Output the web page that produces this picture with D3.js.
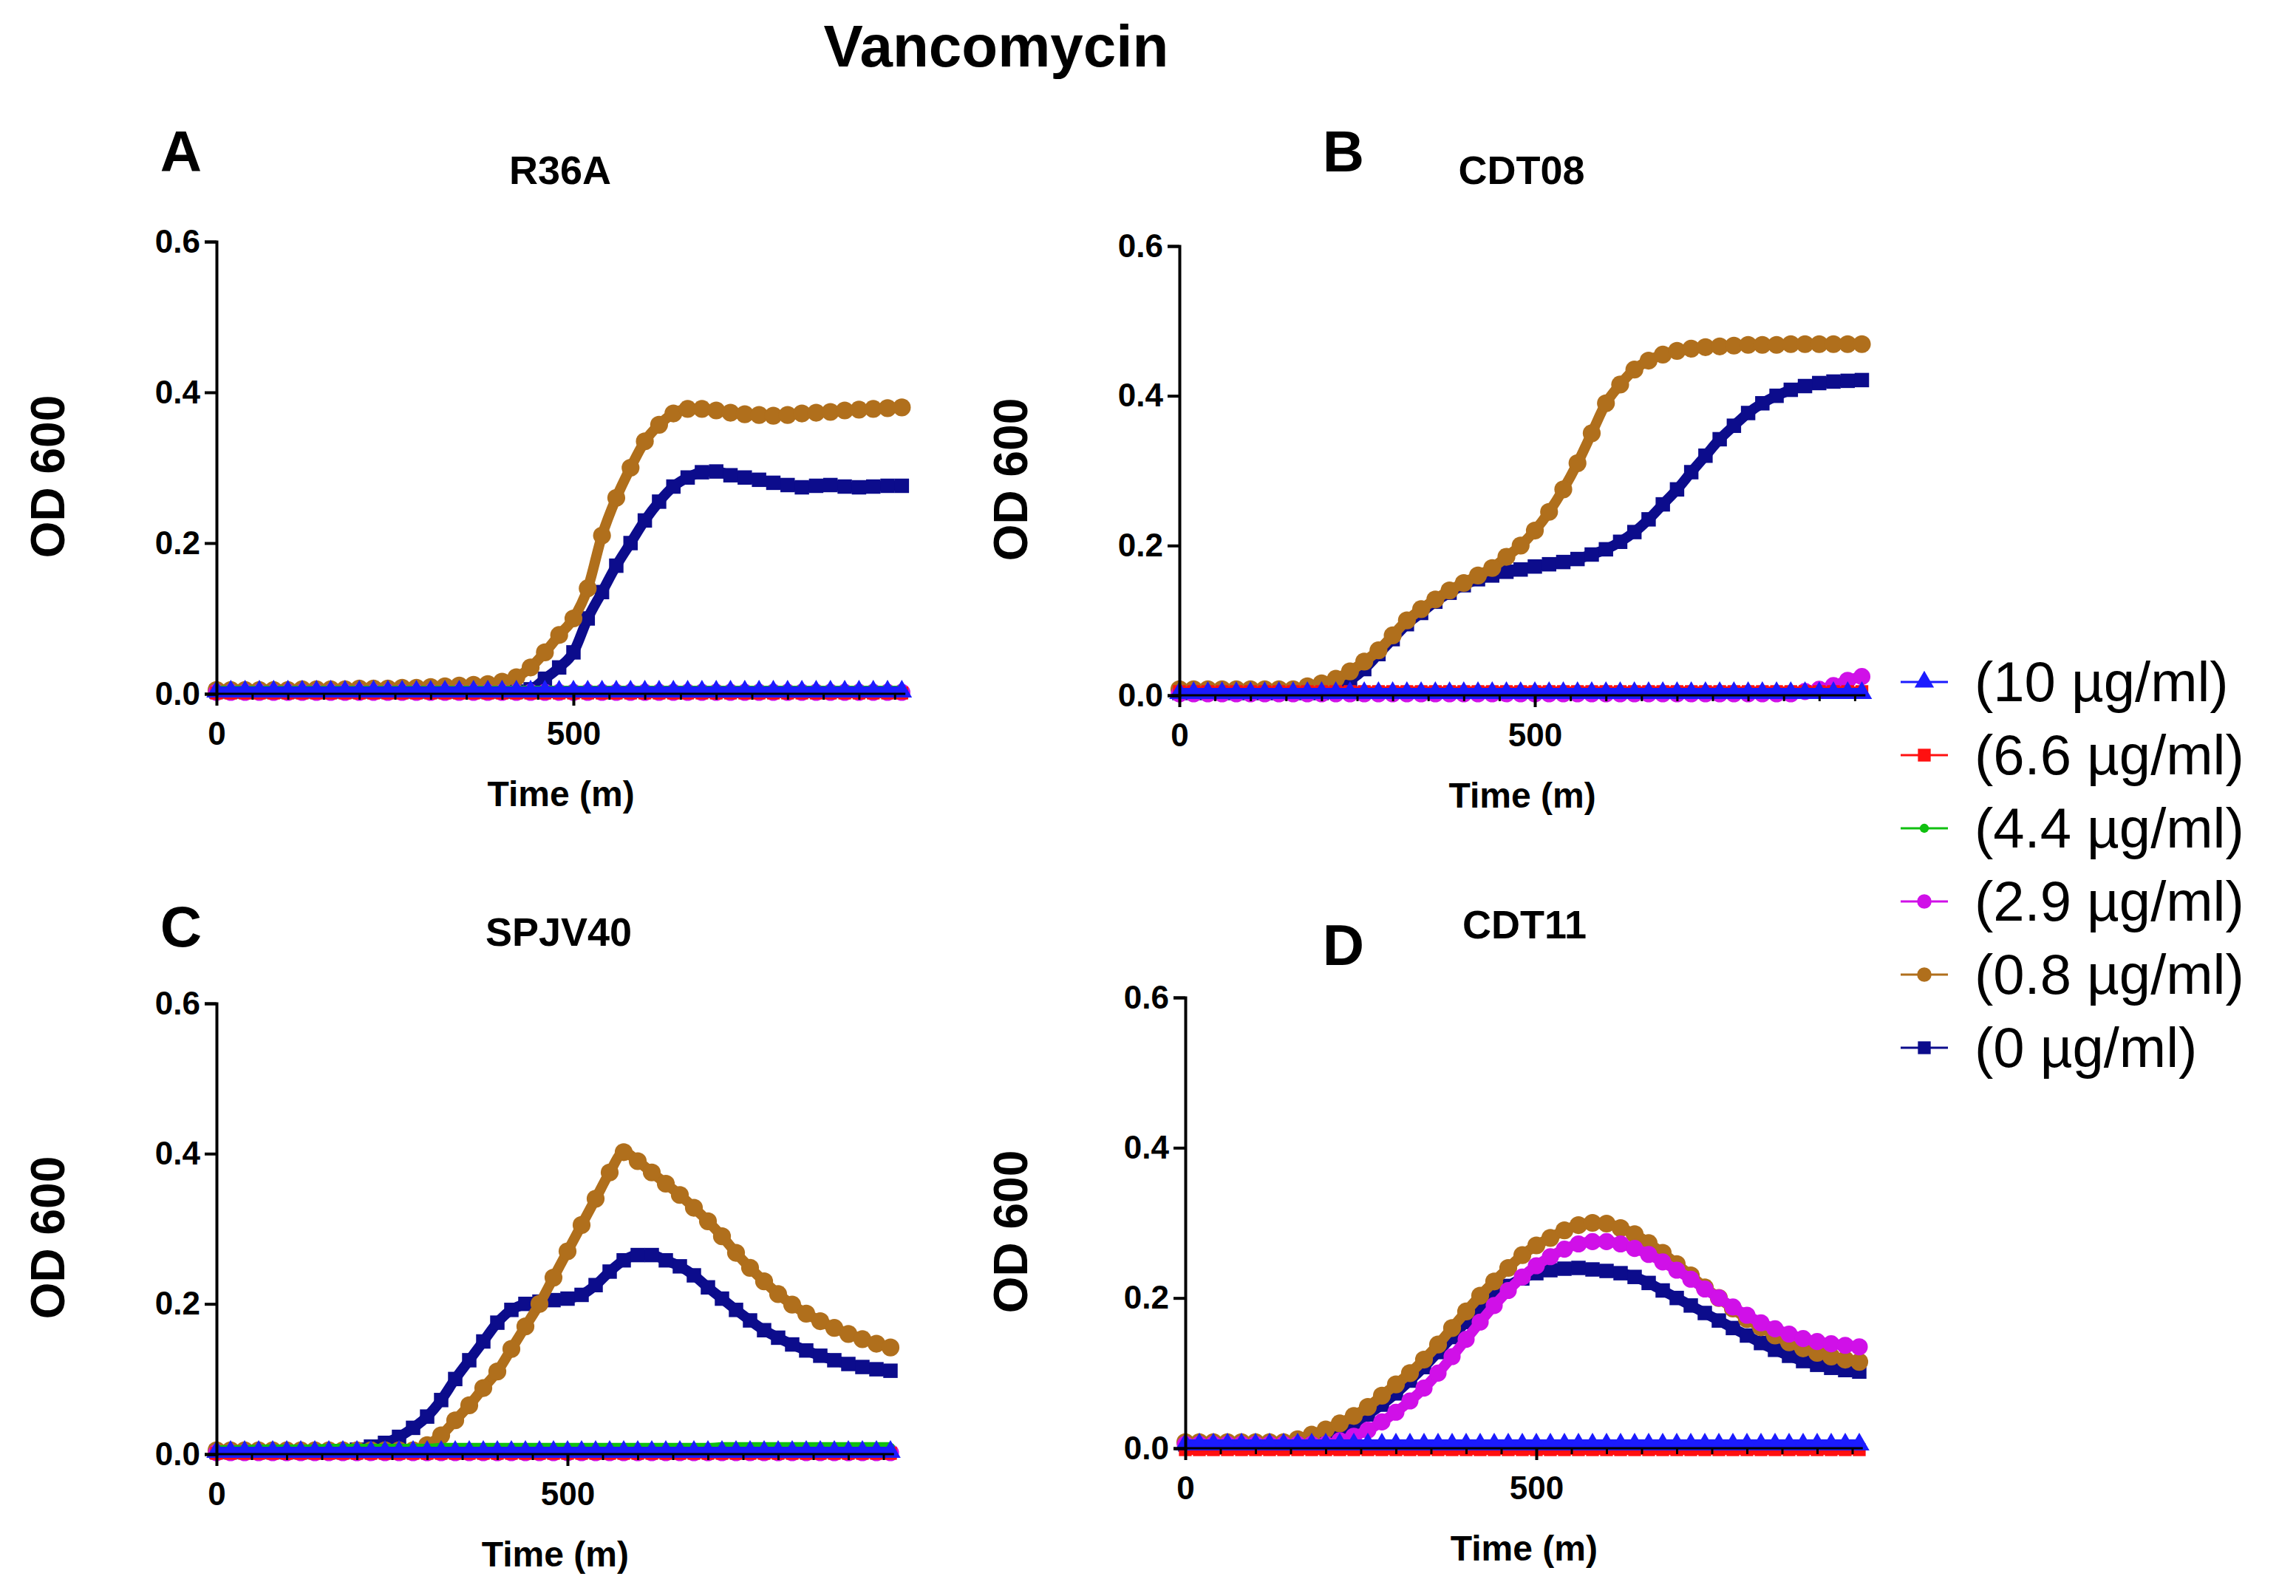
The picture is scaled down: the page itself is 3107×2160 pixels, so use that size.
<!DOCTYPE html>
<html>
<head>
<meta charset="utf-8">
<script src="https://cdn.jsdelivr.net/npm/d3@7"></script>
<style>
  body { margin: 0; background: #fff; }
  svg { font-family: "Liberation Sans", Arial, sans-serif; }
</style>
</head>
<body>
<svg id="chart" width="3107" height="2160"></svg>
<script>
// sampling every 20 minutes, 0..960
const times = d3.range(0, 961, 20);

const legendLabels = ['(10 µg/ml)', '(6.6 µg/ml)', '(4.4 µg/ml)', '(2.9 µg/ml)', '(0.8 µg/ml)', '(0 µg/ml)'];
const panelLetters = ['A', 'B', 'C', 'D'];
const panelNames = ['R36A', 'CDT08', 'SPJV40', 'CDT11'];
const yTicks = [0, 0.2, 0.4, 0.6];
const xTicks = [0, 500];

// R36A
const a10 = [.003,.003,.003,.003,.003,.003,.003,.003,.003,.003,.003,.003,.003,.003,.003,.003,.003,.003,.003,.003,.003,.003,.003,.003,.003,.003,.003,.003,.003,.003,.003,.003,.003,.003,.003,.003,.003,.003,.003,.003,.003,.003,.003,.003,.003,.003,.003,.003,.003];
const a66 = [.001,.001,.001,.001,.001,.001,.001,.001,.001,.001,.001,.001,.001,.001,.001,.001,.001,.001,.001,.001,.001,.001,.001,.001,.001,.001,.001,.001,.001,.001,.001,.001,.001,.001,.001,.001,.001,.001,.001,.001,.001,.001,.001,.001,.001,.001,.001,.001,.001];
const a44 = [.004,.004,.004,.004,.004,.004,.004,.004,.004,.004,.004,.004,.004,.004,.004,.004,.004,.004,.004,.004,.004,.004,.004,.004,.004,.004,.004,.004,.004,.004,.004,.004,.004,.004,.004,.004,.004,.004,.004,.004,.004,.004,.004,.004,.004,.004,.004,.004,.004];
const a29 = [.002,.002,.002,.002,.002,.002,.002,.002,.002,.002,.002,.002,.002,.002,.002,.002,.002,.002,.002,.002,.002,.002,.002,.002,.002,.002,.002,.002,.002,.002,.002,.002,.002,.002,.002,.002,.002,.002,.002,.002,.002,.002,.002,.002,.002,.002,.002,.002,.002];
const a08 = [.005,.005,.005,.005,.005,.005,.006,.006,.006,.006,.007,.007,.007,.008,.008,.009,.01,.011,.012,
  .013,.016,.022,.035,.055,.078,.1,.14,.21,.26,.3,.335,.357,.372,.378,.378,.376,.373,.371,.37,.369,.37,.372,.373,.374,.376,.377,.378,.379,.38];
const a0 = [.003,.003,.003,.003,.003,.003,.003,.003,.003,.003,.003,.003,.003,.003,.003,.003,.003,.003,.003,.003,.003,.003,
  .006,.02,.035,.055,.1,.135,.17,.2,.23,.255,.275,.287,.294,.295,.29,.287,.284,.28,.277,.274,.276,.277,.275,.274,.275,.276,.276];

// CDT08
const b10 = a10;
const b66 = [.005,.005,.005,.005,.005,.005,.005,.005,.005,.005,.005,.005,.005,.005,.005,.005,.005,.005,.005,.005,.005,.005,.005,.005,.005,.005,.005,.005,.005,.005,.005,.005,.005,.005,.005,.005,.005,.005,.005,.005,.005,.005,.005,.005,.005,.005,.005,.005,.005];
const b44 = a44;
const b29 = [.002,.002,.002,.002,.002,.002,.002,.002,.002,.002,.002,.002,.002,.002,.002,.002,.002,.002,.002,.002,.002,.002,.002,.002,.002,.002,.002,.002,.002,.002,.002,.002,.002,.002,.002,.002,.002,.002,.002,.002,.002,.002,.002,.002,.005,.008,.013,.02,.025];
const b08 = [.008,.008,.008,.008,.008,.008,.008,.008,.008,
  .012,.016,.022,.032,.045,.06,.08,.1,.115,.128,.14,.15,.16,.17,.185,.2,.22,.245,.275,.31,.35,.39,.415,.435,.447,.455,.46,.463,.465,.466,.467,.468,.468,.468,.469,.469,.469,.469,.469,.469];
const b0 = [.003,.003,.003,.003,.003,.003,.003,.003,.003,.003,.003,
  .01,.02,.035,.055,.075,.095,.11,.125,.137,.147,.155,.16,.165,.168,.172,.175,.178,.182,.188,.195,.205,.218,.235,.255,.275,.298,.32,.342,.36,.377,.39,.4,.408,.413,.417,.419,.42,.421];

// SPJV40
const c10 = a10;
const c66 = a66;
const c44 = [.005,.005,.005,.006,.006,.006,.006,.006,.007,.007,.007,.007,.007,.007,.007,.007,.008,.008,.008,.008,.008,.008,.008,.008,.008,.008,.008,.008,.008,.008,.008,.008,.008,.008,.008,.008,.009,.009,.009,.009,.009,.009,.009,.009,.009,.009,.009,.009,.009];
const c29 = a29;
const c08 = [.005,.005,.005,.005,.005,.005,.005,.005,.005,.005,.005,.005,.005,.005,.005,
  .012,.025,.045,.065,.088,.11,.14,.17,.2,.235,.27,.305,.34,.375,.402,.39,.375,.36,.345,.328,.31,.29,.268,.248,.23,.213,.199,.187,.177,.168,.16,.153,.147,.142];
const c0 = [.003,.003,.003,.003,.003,.003,.003,.003,.003,.003,
  .006,.01,.015,.023,.035,.05,.072,.1,.125,.15,.175,.192,.2,.203,.205,.207,.212,.225,.243,.258,.265,.265,.258,.25,.238,.222,.207,.192,.178,.165,.155,.146,.138,.131,.125,.12,.116,.113,.111];

// CDT11
const d10 = [.005,.005,.005,.005,.005,.005,.005,.005,.005,.005,.005,.005,.005,.005,.005,.005,.005,.005,.005,.005,.005,.005,.005,.005,.005,.005,.005,.005,.005,.005,.005,.005,.005,.005,.005,.005,.005,.005,.005,.005,.005,.005,.005,.005,.005,.005,.005,.005,.005];
const d66 = [-.002,-.002,-.002,-.002,-.002,-.002,-.002,-.002,-.002,-.002,-.002,-.002,-.002,-.002,-.002,-.002,-.002,-.002,-.002,-.002,-.002,-.002,-.002,-.002,-.002,-.002,-.002,-.002,-.002,-.002,-.002,-.002,-.002,-.002,-.002,-.002,-.002,-.002,-.002,-.002,-.002,-.002,-.002,-.002,-.002,-.002,-.002,-.002,-.002];
const d44 = a29;
const d29 = [.005,.005,.005,.005,.005,.005,.005,.005,.005,.005,.005,
  .01,.016,.024,.035,.048,.063,.08,.1,.122,.145,.168,.19,.21,.228,.243,.255,.265,.272,.275,.275,.272,.266,.258,.248,.237,.225,.212,.2,.188,.177,.167,.159,.152,.146,.142,.139,.137,.135];
const d08 = [.008,.008,.008,.008,.008,.008,.008,.008,
  .012,.018,.025,.033,.043,.055,.07,.085,.1,.118,.138,.16,.182,.203,.222,.24,.257,.27,.28,.29,.297,.3,.299,.293,.285,.273,.26,.245,.23,.214,.2,.186,.172,.161,.15,.141,.133,.127,.122,.118,.115];
const d0 = [.005,.005,.005,.005,.005,.005,.005,.005,.005,
  .01,.016,.024,.033,.045,.058,.073,.09,.108,.128,.148,.168,.187,.203,.216,.226,.233,.237,.239,.24,.238,.236,.233,.228,.22,.21,.2,.19,.18,.17,.16,.15,.14,.131,.123,.116,.111,.107,.104,.102];

const panelData = [
  [a10, a66, a44, a29, a08, a0],
  [b10, b66, b44, b29, b08, b0],
  [c10, c66, c44, c29, c08, c0],
  [d10, d66, d44, d29, d08, d0],
];

const colors = ['#1b1bff', '#ff1010', '#10c010', '#d010e8', '#b06f1c', '#0c0c8c'];
const shapes = [d3.symbolTriangle, d3.symbolSquare, d3.symbolCircle, d3.symbolCircle, d3.symbolCircle, d3.symbolSquare];
const sizes = [330, 300, 120, 420, 460, 380];

// layout of each panel: axis x, top, bottom, x pixel for 500
const layout = [
  { x0: 293, top: 327, bot: 939, x500: 776, lx: 245, ly: 204, tx: 758, ty: 230, ylx: 63 },
  { x0: 1596, top: 333, bot: 941, x500: 2077, lx: 1818, ly: 204, tx: 2059, ty: 230, ylx: 1366 },
  { x0: 293, top: 1358, bot: 1968, x500: 768, lx: 245, ly: 1253, tx: 756, ty: 1261, ylx: 63 },
  { x0: 1604, top: 1350, bot: 1960, x500: 2079, lx: 1818, ly: 1278, tx: 2063, ty: 1251, ylx: 1366 },
];

const svg = d3.select('#chart');
const narrow = '"Liberation Sans Narrow", "Arial Narrow", "Liberation Sans", sans-serif';

svg.append('text')
  .attr('x', 1348).attr('y', 90)
  .attr('text-anchor', 'middle')
  .attr('font-size', 80).attr('font-weight', 'bold')
  .text('Vancomycin');

layout.forEach((p, i) => {
  const x = d3.scaleLinear().domain([0, 500]).range([p.x0, p.x500]);
  const y = d3.scaleLinear().domain([0, 0.6]).range([p.bot, p.top]);
  const g = svg.append('g');

  g.append('text').attr('x', p.lx).attr('y', p.ly + 28)
    .attr('text-anchor', 'middle').attr('font-size', 78).attr('font-weight', 'bold')
    .text(panelLetters[i]);
  g.append('text').attr('x', p.tx).attr('y', p.ty + 19)
    .attr('text-anchor', 'middle').attr('font-size', 54).attr('font-weight', 'bold')
    .text(panelNames[i]);

  // data, drawn from last series to first so the 10 µg/ml one is on top
  for (let s = 5; s >= 0; s--) {
    const vals = panelData[i][s];
    const pts = times.map((t, k) => [t, vals[k]]);
    g.append('path')
      .attr('d', d3.line().curve(d3.curveMonotoneX).x(d => x(d[0])).y(d => y(d[1]))(pts))
      .attr('fill', 'none').attr('stroke', colors[s]).attr('stroke-width', 14);
    g.selectAll(null).data(pts).enter().append('path')
      .attr('transform', d => `translate(${x(d[0])},${y(d[1])})`)
      .attr('d', d3.symbol().type(shapes[s]).size(sizes[s]))
      .attr('fill', colors[s]);
  }

  const yAxis = g.append('g').attr('transform', `translate(${p.x0},0)`)
    .call(d3.axisLeft(y).tickValues(yTicks).tickFormat(d3.format('.1f')).tickSize(16).tickPadding(6));
  yAxis.select('.domain').attr('stroke-width', 4);
  yAxis.selectAll('.tick line').attr('stroke-width', 4);
  yAxis.selectAll('text').attr('font-size', 44).attr('font-weight', 'bold').attr('font-family', narrow);

  const minor = g.append('g').attr('transform', `translate(0,${p.bot})`)
    .call(d3.axisBottom(x).tickValues(d3.range(50, 951, 50).filter(v => v !== 500)).tickSize(8).tickFormat(''));
  minor.select('.domain').remove();
  minor.selectAll('.tick line').attr('stroke-width', 3);

  const xAxis = g.append('g').attr('transform', `translate(0,${p.bot})`)
    .call(d3.axisBottom(x).tickValues(xTicks).tickSize(16).tickPadding(22).tickSizeOuter(0));
  xAxis.select('.domain').attr('d', `M${p.x0},0H${x(965)}`).attr('stroke-width', 3);
  xAxis.selectAll('.tick line').attr('stroke-width', 4);
  xAxis.selectAll('text').attr('font-size', 44).attr('font-weight', 'bold').attr('font-family', narrow);

  g.append('text')
    .attr('x', (p.x0 + x(965)) / 2).attr('y', p.bot + 152)
    .attr('text-anchor', 'middle').attr('font-size', 48).attr('font-weight', 'bold')
    .text('Time (m)');
  g.append('text')
    .attr('transform', `translate(${p.ylx + 24},${(p.top + p.bot) / 2 + 12}) rotate(-90)`)
    .attr('text-anchor', 'middle').attr('font-size', 64).attr('font-weight', 'bold')
    .text('OD 600');
});

// legend
const leg = svg.append('g');
legendLabels.forEach((lab, s) => {
  const ly = 923 + s * 99;
  leg.append('line').attr('x1', 2572).attr('x2', 2636).attr('y1', ly).attr('y2', ly)
    .attr('stroke', colors[s]).attr('stroke-width', 3);
  leg.append('path').attr('transform', `translate(2604,${ly})`)
    .attr('d', d3.symbol().type(shapes[s]).size(Math.min(sizes[s], 300))).attr('fill', colors[s]);
  leg.append('text').attr('x', 2672).attr('y', ly + 26)
    .attr('font-size', 76).text(lab);
});
</script>
</body>
</html>
